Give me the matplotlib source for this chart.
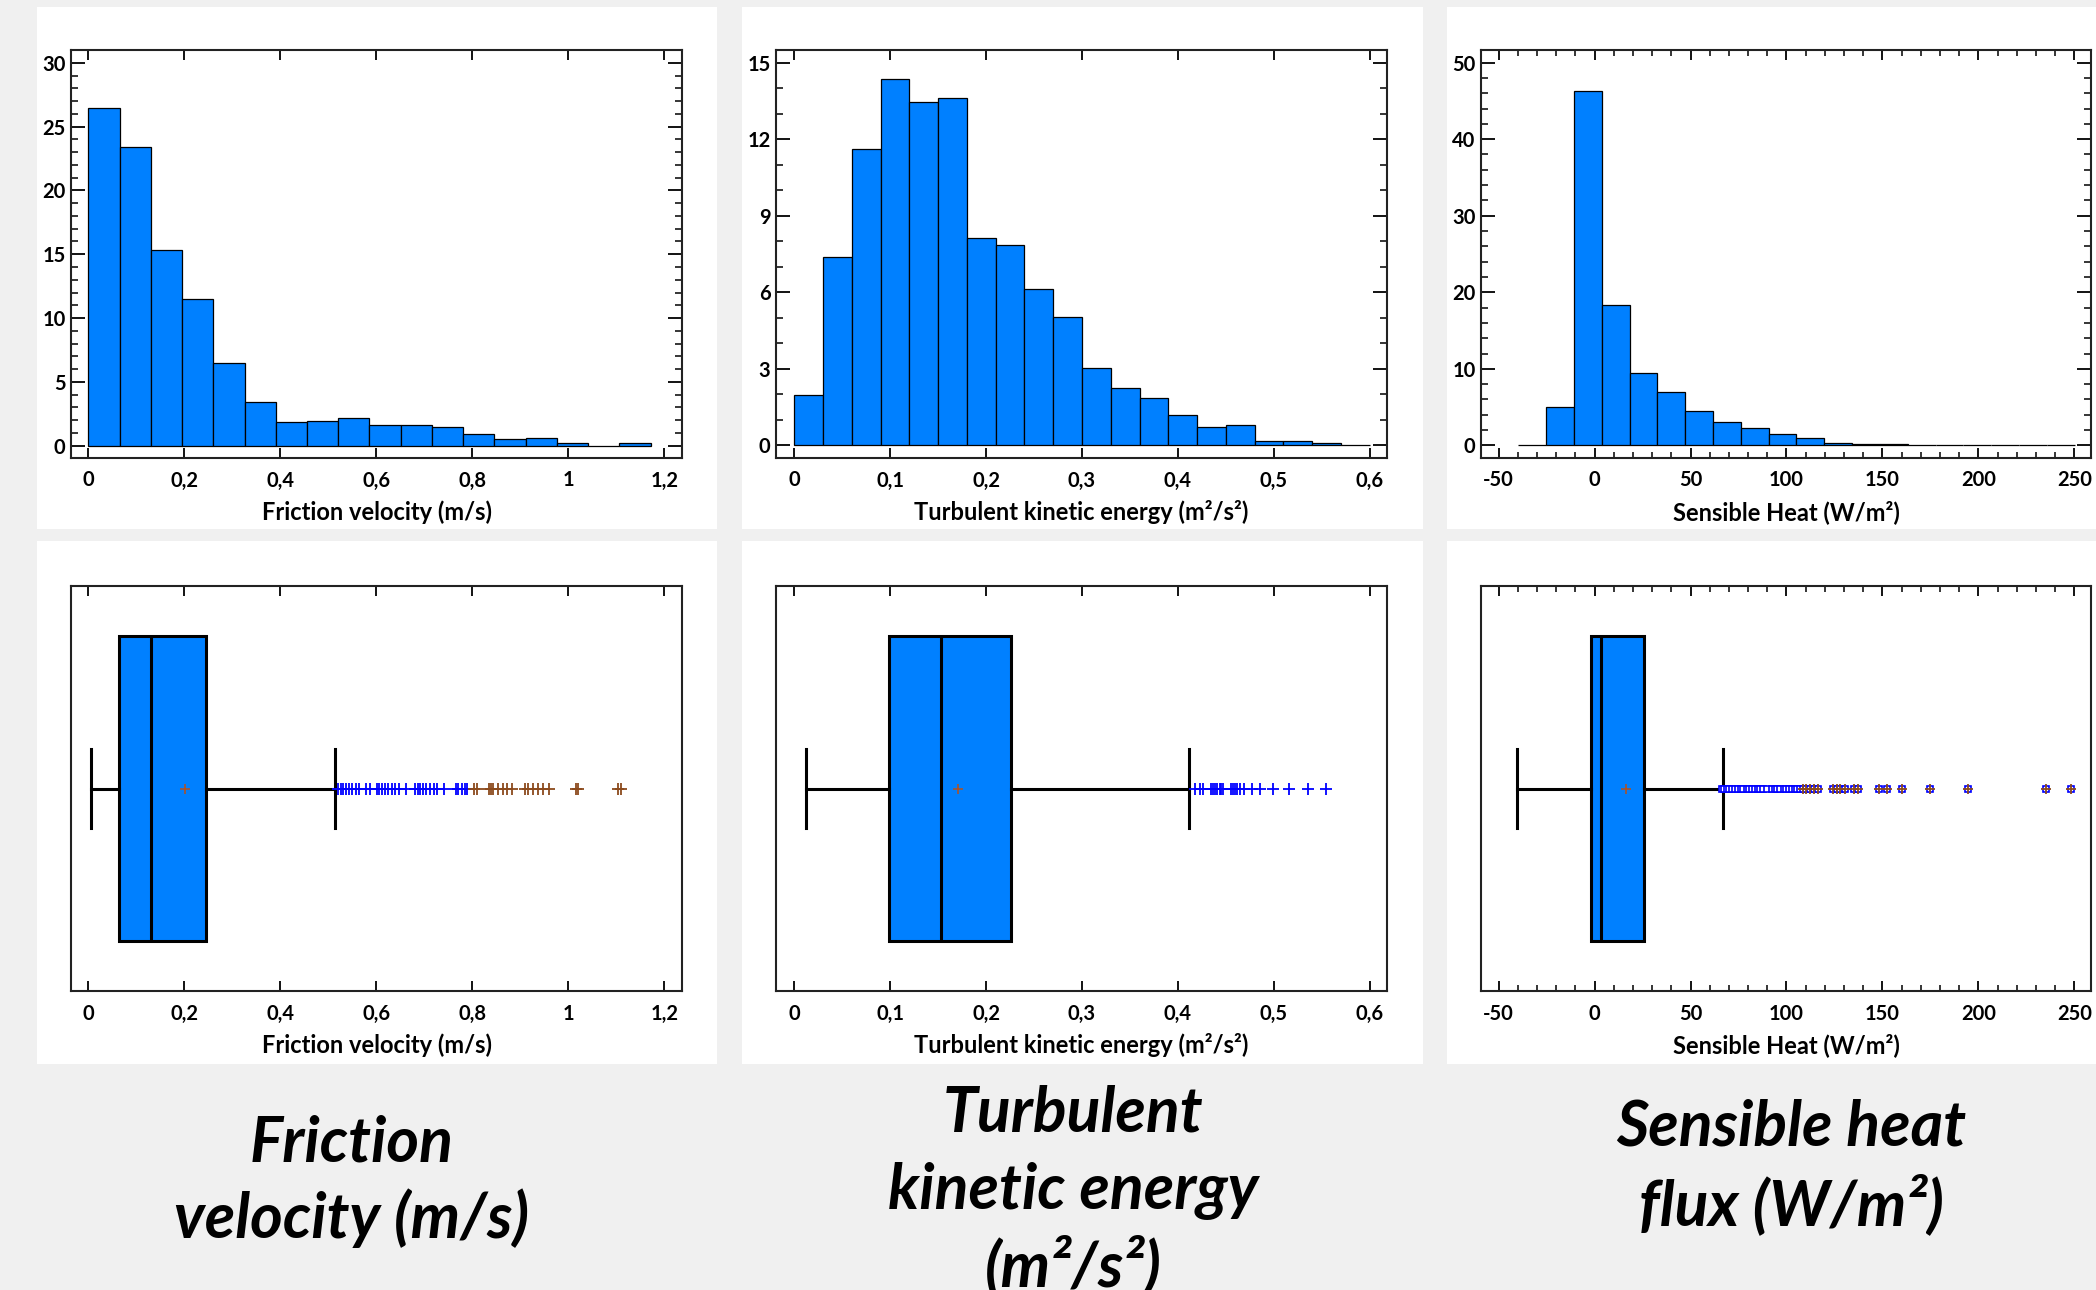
import numpy as np
import matplotlib
matplotlib.use('Agg')
import matplotlib.pyplot as plt
from matplotlib.patches import Rectangle
from matplotlib.ticker import MultipleLocator, FuncFormatter

plt.rcParams['font.family'] = ['Lato', 'DejaVu Sans']

# ---- data ----
# histograms (percent of observations per bin)
ustar_bin0, ustar_binw = 0.0, 0.0651
ustar_counts = [26.45, 23.37, 15.35, 11.51, 6.50, 3.39, 1.83, 1.93, 2.14,
                1.64, 1.64, 1.46, 0.89, 0.50, 0.60, 0.18, 0.0, 0.18]
tke_bin0, tke_binw = 0.0, 0.03
tke_counts = [1.97, 7.38, 11.63, 14.37, 13.47, 13.60, 8.15, 7.86, 6.12, 5.03,
              3.03, 2.27, 1.88, 1.20, 0.72, 0.81, 0.18, 0.18, 0.09, 0.0]
sh_bin0, sh_binw = -39.8, 14.5
sh_counts = [0.0, 4.96, 46.3, 18.32, 9.49, 6.92, 4.53, 3.05, 2.22, 1.44,
             0.91, 0.30, 0.13, 0.13, 0.0, 0.0, 0.0, 0.0, 0.0, 0.0]

# box-and-whisker summaries
ustar_box = dict(whislo=0.0056, q1=0.064, med=0.131, q3=0.245, whishi=0.515, mean=0.201)
tke_box = dict(whislo=0.0121, q1=0.0986, med=0.153, q3=0.2265, whishi=0.412, mean=0.1707)
sh_box = dict(whislo=-40.2, q1=-1.8, med=3.2, q3=25.9, whishi=67.1, mean=16.3)

# outside points (1.5-3 IQR) and far outside points (> 3 IQR)
ustar_out = [0.521, 0.526, 0.531, 0.537, 0.543, 0.549, 0.558, 0.563, 0.579, 0.587,
             0.602, 0.606, 0.611, 0.618, 0.625, 0.632, 0.639, 0.648, 0.662, 0.681,
             0.686, 0.691, 0.698, 0.704, 0.712, 0.720, 0.727, 0.741, 0.766, 0.771,
             0.778, 0.785, 0.789]
ustar_far = [0.804, 0.809, 0.834, 0.839, 0.844, 0.854, 0.864, 0.873, 0.882, 0.910,
             0.917, 0.927, 0.938, 0.947, 0.959, 1.016, 1.021, 1.103, 1.110]
tke_out = [0.418, 0.423, 0.426, 0.434, 0.437, 0.439, 0.441, 0.444, 0.445, 0.447,
           0.455, 0.457, 0.460, 0.462, 0.465, 0.469, 0.477, 0.486, 0.499, 0.516,
           0.536, 0.554]
tke_far = []
sh_out = [66.5, 67.4, 68.9, 70.2, 71.8, 73.1, 74.6, 76.3, 77.5, 79.2, 80.4, 82.0,
          83.7, 85.1, 86.3, 88.0, 89.6, 92.6, 94.1, 95.3, 96.8, 98.5, 99.7, 101.2,
          102.9, 104.4, 105.6, 107.0]
sh_far = [108.8, 110.2, 112.3, 114.4, 116.6, 124.4, 126.5, 127.9, 130.5, 135.2,
          137.4, 148.4, 152.2, 160.1, 174.8, 194.8, 235.3, 248.1]

labels = ['Friction velocity (m/s)', 'Turbulent kinetic energy (m\u00b2/s\u00b2)',
          'Sensible Heat (W/m\u00b2)']
captions = [['Friction', 'velocity (m/s)'],
            ['Turbulent', 'kinetic energy', '(m\u00b2/s\u00b2)'],
            ['Sensible heat', 'flux (W/m\u00b2)']]

# ---- figure ----
W, H = 2096, 1290
fig = plt.figure(figsize=(W / 100, H / 100), dpi=100, facecolor='#f0f0f0')


def frect(l, t, r, b):
    return [l / W, 1 - b / H, (r - l) / W, (b - t) / H]


# white panels behind every chart
for (l, r) in [(37, 717), (742, 1423), (1447, 2096)]:
    for (t, b) in [(7, 529), (541, 1064)]:
        x0, y0, w, h = frect(l, t, r, b)
        fig.add_artist(Rectangle((x0, y0), w, h, transform=fig.transFigure,
                                 facecolor='white', edgecolor='none', zorder=0))

BLUE = '#0080ff'
BROWN = '#8b4a1c'
comma = FuncFormatter(lambda v, p: ('%g' % v).replace('.', ','))

cols = [(71, 682), (776, 1387), (1481, 2091)]
xlims = [(-0.036, 1.237), (-0.019, 0.618), (-59.2, 258.7)]
xmaj = [0.2, 0.1, 50]
xmin = [None, None, 10]
ylims = [(-0.96, 31.0), (-0.49, 15.5), (-1.65, 51.65)]
ymaj = [5, 3, 10]
ymin = [1, 1, 2]
hists = [(ustar_bin0, ustar_binw, ustar_counts),
         (tke_bin0, tke_binw, tke_counts),
         (sh_bin0, sh_binw, sh_counts)]
boxes = [ustar_box, tke_box, sh_box]
outs = [ustar_out, tke_out, sh_out]
fars = [ustar_far, tke_far, sh_far]


def style_axis(ax, i):
    ax.set_xlim(*xlims[i])
    ax.xaxis.set_major_locator(MultipleLocator(xmaj[i]))
    if xmin[i]:
        ax.xaxis.set_minor_locator(MultipleLocator(xmin[i]))
    ax.xaxis.set_major_formatter(comma)
    for s in ax.spines.values():
        s.set_linewidth(1.5)
        s.set_color('#222222')
    ax.tick_params(axis='x', which='major', direction='in', top=True, length=7,
                   width=1.3, pad=9, labelsize=14.5)
    ax.tick_params(axis='x', which='minor', direction='in', top=True, length=4,
                   width=1.1)
    for t in ax.get_xticklabels():
        t.set_fontweight('bold')
    ax.set_xlabel(labels[i], fontsize=17, fontweight='bold', labelpad=7)


for i in range(3):
    l, r = cols[i]
    # histogram
    ax = fig.add_axes(frect(l, 50, r, 458))
    b0, bw, cnt = hists[i]
    edges = b0 + bw * np.arange(len(cnt))
    ax.bar(edges, cnt, width=bw, align='edge', color=BLUE, edgecolor='black',
           linewidth=0.9)
    style_axis(ax, i)
    ax.set_ylim(*ylims[i])
    ax.yaxis.set_major_locator(MultipleLocator(ymaj[i]))
    ax.yaxis.set_minor_locator(MultipleLocator(ymin[i]))
    ax.tick_params(axis='y', which='major', direction='in', right=True, length=10,
                   width=1.3, pad=4, labelsize=14.5)
    ax.tick_params(axis='y', which='minor', direction='in', right=True, length=5,
                   width=1.1)
    for t in ax.get_yticklabels():
        t.set_fontweight('bold')

    # box and whisker
    bx = fig.add_axes(frect(l, 586, r, 991))
    st = dict(boxes[i])
    st['fliers'] = []
    bx.bxp([st], positions=[0], widths=0.755, orientation='horizontal',
           showmeans=True, showfliers=False, patch_artist=True, capwidths=0.195,
           boxprops=dict(facecolor=BLUE, edgecolor='black', linewidth=2.2),
           medianprops=dict(color='black', linewidth=2.2),
           whiskerprops=dict(color='black', linewidth=2.2),
           capprops=dict(color='black', linewidth=2.2),
           meanprops=dict(marker='+', markeredgecolor='#b5501c', markersize=7,
                          markeredgewidth=1.1))
    if i == 2:
        bx.plot(outs[i], np.zeros(len(outs[i])), ls='none', marker='s',
                markersize=5, markerfacecolor='white', markeredgecolor='blue',
                markeredgewidth=1.2)
        bx.plot(fars[i], np.zeros(len(fars[i])), ls='none', marker='s',
                markersize=5, markerfacecolor='white', markeredgecolor='blue',
                markeredgewidth=1.2)
        bx.plot(fars[i], np.zeros(len(fars[i])), ls='none', marker='+',
                markersize=7, markeredgecolor=BROWN, markeredgewidth=1.3)
    else:
        bx.plot(outs[i], np.zeros(len(outs[i])), ls='none', marker='+',
                markersize=8, markeredgecolor='blue', markeredgewidth=1.3)
        if fars[i]:
            bx.plot(fars[i], np.zeros(len(fars[i])), ls='none', marker='+',
                    markersize=8, markeredgecolor=BROWN, markeredgewidth=1.3)
    bx.set_ylim(-0.5, 0.5)
    bx.set_yticks([])
    style_axis(bx, i)

# captions under the panels
cap_x = [352, 1073, 1791]
cap_base = [[1161, 1238], [1131, 1209, 1286], [1146, 1225]]
for i in range(3):
    for line, yb in zip(captions[i], cap_base[i]):
        fig.text(cap_x[i] / W, 1 - yb / H, line, ha='center', va='baseline',
                 fontsize=45, fontweight='bold', fontstyle='italic')

fig.savefig('out.png', dpi=100, facecolor=fig.get_facecolor())
